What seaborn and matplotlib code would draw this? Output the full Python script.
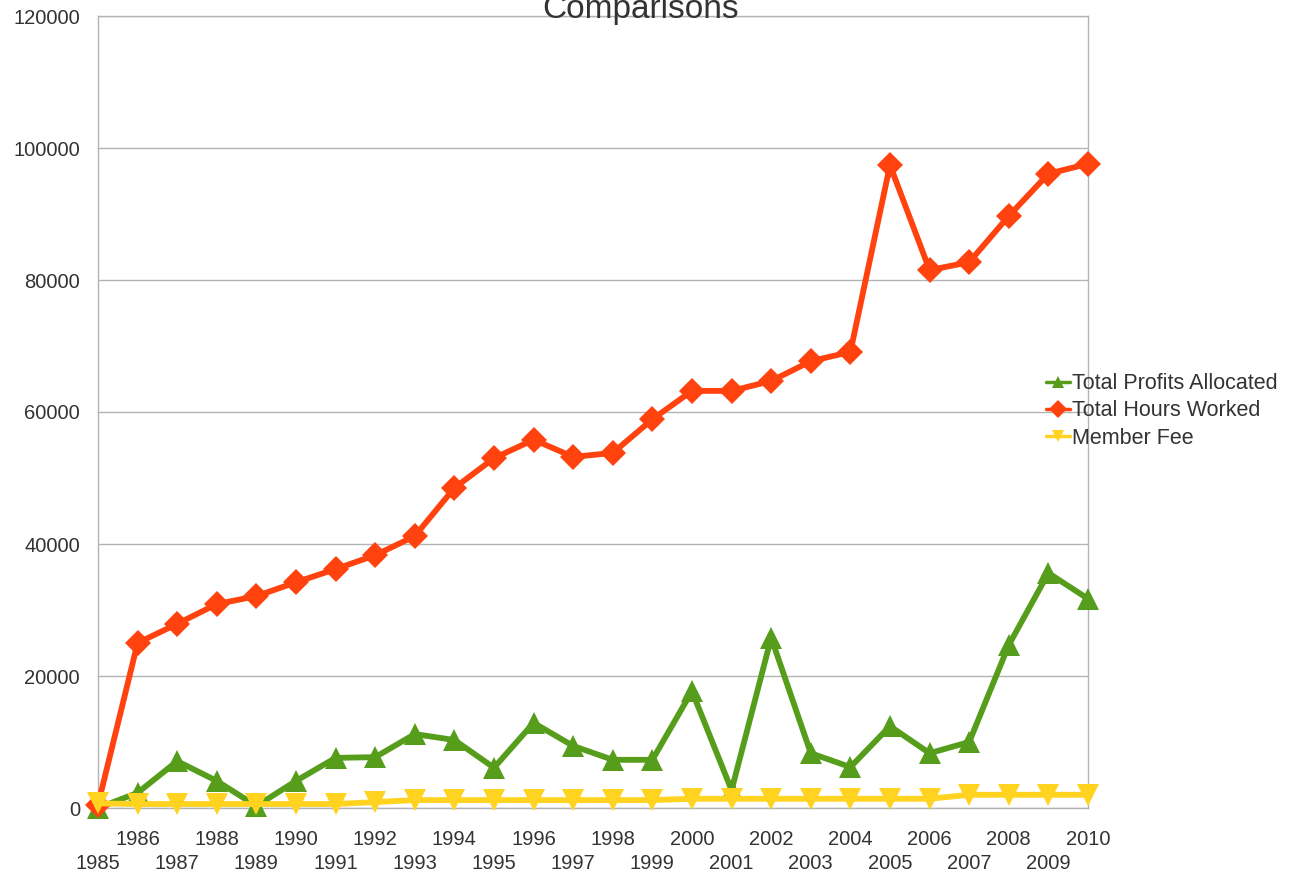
import pandas as pd
import matplotlib
matplotlib.use('Agg')
import matplotlib.pyplot as plt
import seaborn as sns

years = list(range(1985, 2011))

profits = [0, 2300, 7100, 4100, 300, 4100, 7600, 7700, 11200, 10300,
           6100, 12900, 9400, 7300, 7300, 17700, 2700, 25800, 8300, 6200,
           12400, 8300, 10000, 24700, 35600, 31700]
hours = [500, 25000, 27900, 30900, 32100, 34200, 36200, 38300, 41200, 48500,
         53000, 55800, 53200, 53800, 58900, 63200, 63200, 64700, 67700, 69100,
         97400, 81500, 82700, 89700, 96100, 97600]
fee = [700, 600, 600, 600, 600, 600, 600, 900, 1200, 1200,
       1200, 1200, 1200, 1200, 1200, 1400, 1400, 1400, 1400, 1400,
       1400, 1400, 2000, 2000, 2000, 2000]

series_names = ["Total Profits Allocated", "Total Hours Worked", "Member Fee"]
colors = ["#579D1C", "#FF420E", "#FFD320"]
markers = ["^", "D", "v"]
marker_sizes = [16, 13, 16]

df = pd.DataFrame({
    "Year": years * 3,
    "Value": profits + hours + fee,
    "Series": [series_names[0]] * 26 + [series_names[1]] * 26 + [series_names[2]] * 26,
})

sns.set_style("white")
plt.rcParams['font.family'] = ['Liberation Sans', 'DejaVu Sans']

fig = plt.figure(figsize=(12.94, 8.76), dpi=100)
ax = fig.add_axes([98 / 1294, 1 - 808 / 876, 990 / 1294, 792 / 876])

for name, col, mk, ms in zip(series_names, colors, markers, marker_sizes):
    sub = df[df["Series"] == name]
    sns.lineplot(data=sub, x="Year", y="Value", ax=ax, color=col, linewidth=4.2,
                 marker=mk, markersize=ms, markeredgewidth=0, label=name,
                 legend=False, zorder=3, clip_on=False)

grey = "#b3b3b3"
ax.set_xlim(1985, 2010)
ax.set_ylim(0, 120000)
ax.set_yticks(range(0, 120001, 20000))
ax.set_yticklabels([str(v) for v in range(0, 120001, 20000)], fontsize=14.5, color="#333333")
ax.yaxis.grid(True, color=grey, linewidth=1)
ax.set_axisbelow(True)

# staggered year labels: even years on the first row, odd years on the second
even_years = [y for y in years if y % 2 == 0]
odd_years = [y for y in years if y % 2 == 1]
ax.set_xticks(even_years)
ax.set_xticklabels([str(y) for y in even_years], fontsize=14.5, color="#333333")
ax.set_xticks(odd_years, minor=True)
ax.set_xticklabels([str(y) for y in odd_years], minor=True, fontsize=14.5, color="#333333")
ax.tick_params(axis="x", which="both", length=7, color=grey, width=1)
ax.tick_params(axis="x", which="major", pad=9)
ax.tick_params(axis="x", which="minor", pad=26)
ax.tick_params(axis="y", length=0, pad=13)
for s in ax.spines.values():
    s.set_color(grey)
    s.set_linewidth(1)
ax.set_xlabel("")
ax.set_ylabel("")

fig.text(641 / 1294, 1 - 18 / 876, "Comparisons", ha="center", va="baseline",
         fontsize=24, color="#333333")

handles = [plt.Line2D([], [], color=c, marker=m, markersize=9, linewidth=2.5, markeredgewidth=0)
           for c, m in zip(colors, markers)]
fig.legend(handles, series_names, loc="center left",
           bbox_to_anchor=(1046 / 1294, 1 - 411 / 876), frameon=False,
           fontsize=15.5, handlelength=1.1, handletextpad=0.1, labelspacing=0.3,
           labelcolor="#333333", borderaxespad=0, borderpad=0)

fig.savefig("out.png", dpi=100)
